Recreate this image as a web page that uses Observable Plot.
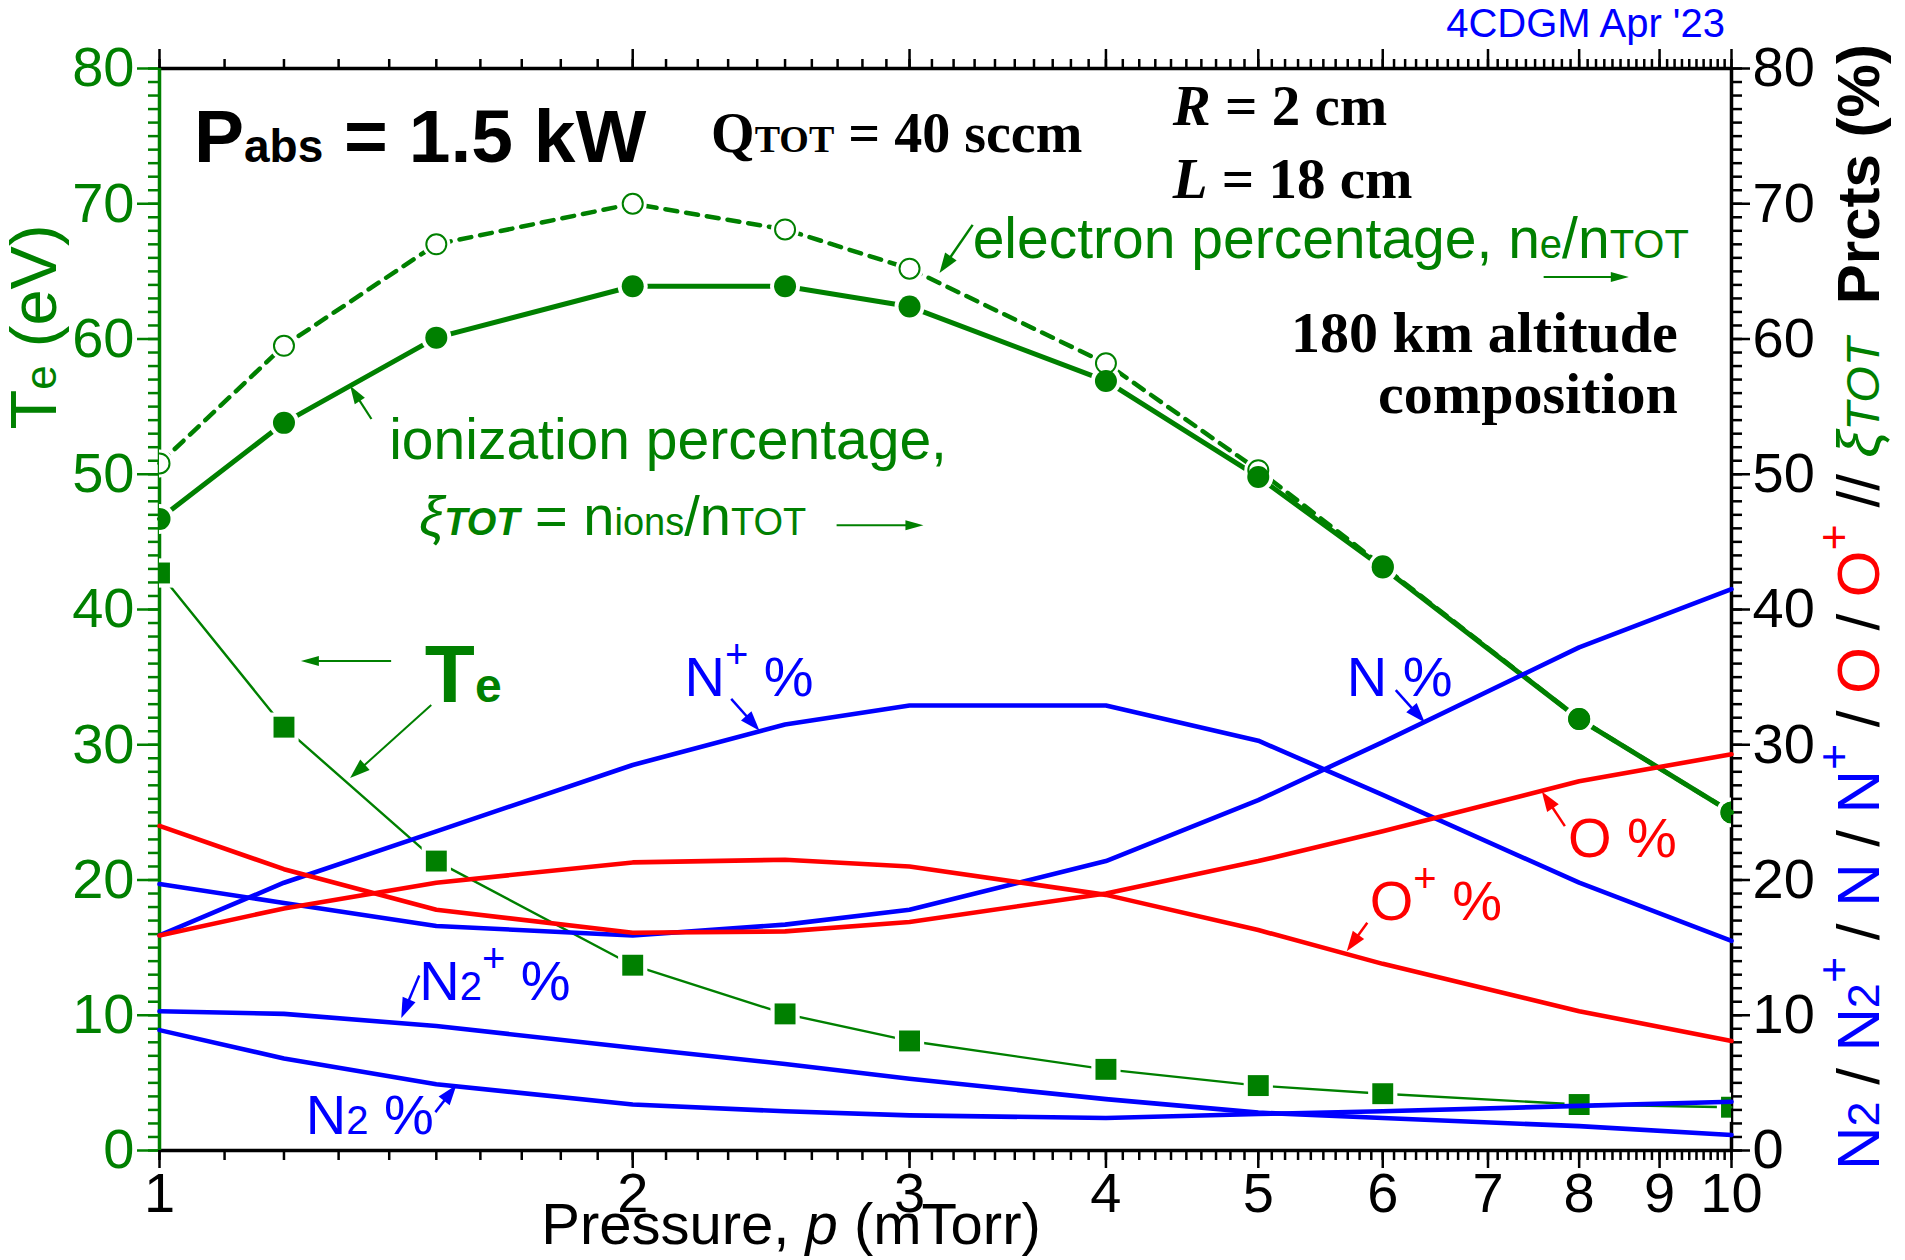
<!DOCTYPE html>
<html><head><meta charset="utf-8">
<script src="https://cdn.jsdelivr.net/npm/d3@7"></script>
<script src="https://cdn.jsdelivr.net/npm/@observablehq/plot@0.6"></script>
<style>
html,body{margin:0;padding:0;background:#fff;}
#chart svg{display:block;}
</style></head><body><div id="chart"></div>
<script>
// ---------- data ----------
const pressure      = [1, 1.2, 1.5, 2, 2.5, 3, 4, 5, 6, 8, 10];            // mTorr
const electronPct   = [50.8, 59.5, 67.0, 70.0, 68.1, 65.2, 58.2, 50.3, 43.2, 31.9, 25.0];
const ionizationPct = [46.7, 53.8, 60.1, 63.9, 63.9, 62.4, 56.9, 49.8, 43.1, 31.9, 25.0];
const electronTemp  = [42.7, 31.3, 21.4, 13.7, 10.1, 8.1, 6.0, 4.8, 4.2, 3.4, 3.2];   // eV
const nIonPct       = [15.9, 19.8, 23.6, 28.5, 31.5, 32.9, 32.9, 30.3, 26.3, 19.8, 15.5];
const nAtomPct      = [19.7, 18.3, 16.6, 15.9, 16.7, 17.8, 21.4, 25.9, 30.2, 37.2, 41.5];
const oAtomPct      = [24.0, 20.8, 17.8, 16.1, 16.2, 16.9, 19.0, 21.4, 23.6, 27.3, 29.3];
const oIonPct       = [15.9, 17.9, 19.8, 21.3, 21.5, 21.0, 18.9, 16.3, 13.8, 10.3, 8.1];
const n2IonPct      = [10.3, 10.1, 9.2, 7.6, 6.4, 5.3, 3.8, 2.8, 2.4, 1.8, 1.15];
const n2MolPct      = [8.9, 6.8, 4.9, 3.4, 2.9, 2.6, 2.4, 2.7, 2.9, 3.3, 3.6];

const yMajorTicks = [0, 10, 20, 30, 40, 50, 60, 70, 80];
const xMajorTicks = [1, 2, 3, 4, 5, 6, 7, 8, 9, 10];
const xTickLabels = ["1", "2", "3", "4", "5", "6", "7", "8", "9", "10"];

// ---------- styling ----------
const GREEN = "#008000", BLUE = "#0000ff", RED = "#ff0000";
const SANS = "'Liberation Sans', Arial, Helvetica, sans-serif";
const SERIF = "'Liberation Serif', 'Times New Roman', Times, serif";

const rows = vals => pressure.map((p, i) => ({p, v: vals[i]}));
const yMinor = d3.range(0, 81, 1);
const xMinor = d3.range(10, 101).map(d => d / 10);

const composition = [
  {values: nIonPct,  color: BLUE},
  {values: nAtomPct, color: BLUE},
  {values: oAtomPct, color: RED},
  {values: oIonPct,  color: RED},
  {values: n2IonPct, color: BLUE},
  {values: n2MolPct, color: BLUE}
];

const plot = Plot.plot({
  width: 1905, height: 1260,
  marginLeft: 159, marginRight: 174, marginTop: 68, marginBottom: 110,
  style: {fontFamily: SANS, background: "white", overflow: "visible"},
  x: {type: "log", domain: [1, 10]},
  y: {domain: [0, 80]},
  marks: [
    // axes ticks
    Plot.axisY(yMinor, {anchor: "left", tickSize: 11, tickFormat: () => "", color: GREEN, stroke: GREEN, strokeWidth: 2.5, label: null}),
    Plot.axisY(yMajorTicks, {anchor: "left", tickSize: 22, tickPadding: 3, color: GREEN, stroke: GREEN, fill: GREEN, strokeWidth: 2.5, fontSize: 56, label: null}),
    Plot.axisY(yMinor, {anchor: "right", tickSize: 10, tickFormat: () => "", color: "black", strokeWidth: 2.5, label: null}),
    Plot.axisY(yMajorTicks, {anchor: "right", tickSize: 18, tickPadding: 3, color: "black", strokeWidth: 2.5, fontSize: 56, label: null}),
    Plot.axisX(xMinor, {anchor: "bottom", tickSize: 10, tickFormat: () => "", color: "black", strokeWidth: 2.5, label: null}),
    Plot.axisX(xMajorTicks, {anchor: "bottom", tickSize: 18, tickPadding: 4, color: "black", strokeWidth: 2.5, fontSize: 56,
      tickFormat: d => xTickLabels[xMajorTicks.indexOf(d)], label: null}),
    Plot.axisX(xMinor, {anchor: "top", tickSize: 10, tickFormat: () => "", color: "black", strokeWidth: 2.5, label: null}),
    Plot.axisX(xMajorTicks, {anchor: "top", tickSize: 20, tickFormat: () => "", color: "black", strokeWidth: 2.5, label: null}),
    // frame lines
    Plot.ruleY([0], {stroke: "black", strokeWidth: 3.5}),
    Plot.ruleY([80], {stroke: "black", strokeWidth: 3.5}),
    Plot.ruleX([10], {stroke: "black", strokeWidth: 3.5}),
    Plot.ruleX([1], {stroke: GREEN, strokeWidth: 3.5}),
    // electron / ionization percentages
    Plot.line(rows(electronPct), {x: "p", y: "v", stroke: GREEN, strokeWidth: 4.5, strokeDasharray: "12,9"}),
    Plot.line(rows(ionizationPct), {x: "p", y: "v", stroke: GREEN, strokeWidth: 5}),
    Plot.dot(rows(electronPct), {x: "p", y: "v", r: 14, fill: "white", clip: true}),
    Plot.dot(rows(ionizationPct), {x: "p", y: "v", r: 15, fill: "white", clip: true}),
    Plot.dot(rows(electronPct), {x: "p", y: "v", r: 10, fill: "white", stroke: GREEN, strokeWidth: 2, clip: true}),
    Plot.dot(rows(ionizationPct), {x: "p", y: "v", r: 11, fill: GREEN, clip: true}),
    // electron temperature
    Plot.line(rows(electronTemp), {x: "p", y: "v", stroke: GREEN, strokeWidth: 2.4}),
    Plot.dot(rows(electronTemp), {x: "p", y: "v", symbol: "square", r: 16.5, fill: "white", clip: true}),
    Plot.dot(rows(electronTemp), {x: "p", y: "v", symbol: "square", r: 11.8, fill: GREEN, clip: true}),
    // composition
    ...composition.map(s => Plot.line(rows(s.values), {x: "p", y: "v", stroke: s.color, strokeWidth: 4.6}))
  ]
});
document.getElementById("chart").append(plot);

// ---------- annotations through the plot's scales ----------
const sx = plot.scale("x"), sy = plot.scale("y");
const X = p => sx.apply(p), Y = v => sy.apply(v);
const svg = d3.select(plot);
const g = svg.append("g");

function richText(x, y, parts, base) {
  const t = g.append("text").attr("x", x).attr("y", y)
    .attr("font-family", base.family || SANS)
    .attr("font-size", base.size)
    .attr("font-weight", base.weight || "normal")
    .attr("fill", base.color || "black")
    .attr("text-anchor", base.anchor || "start")
    .style("white-space", "pre");
  if (base.transform) t.attr("transform", base.transform);
  let shift = 0;
  for (const part of parts) {
    const s = t.append("tspan").text(part.t);
    if (part.size) s.attr("font-size", part.size);
    if (part.weight) s.attr("font-weight", part.weight);
    if (part.style) s.attr("font-style", part.style);
    if (part.color) s.attr("fill", part.color);
    if (part.family) s.attr("font-family", part.family);
    const target = part.shift || 0;
    if (target !== shift) { s.attr("dy", -(target - shift)); shift = target; }
  }
  return t;
}
function arrow(p1, v1, p2, v2, color, width = 2.5, head = 20, hw = 7) {
  const x1 = X(p1), y1 = Y(v1), x2 = X(p2), y2 = Y(v2);
  const a = Math.atan2(y2 - y1, x2 - x1);
  const bx = x2 - head * Math.cos(a), by = y2 - head * Math.sin(a);
  g.append("line").attr("x1", x1).attr("y1", y1).attr("x2", bx + 2 * Math.cos(a)).attr("y2", by + 2 * Math.sin(a))
    .attr("stroke", color).attr("stroke-width", width);
  const px = -Math.sin(a) * hw, py = Math.cos(a) * hw;
  g.append("polygon").attr("points", `${x2},${y2} ${bx + px},${by + py} ${bx - px},${by - py}`).attr("fill", color);
}

// text labels (positions in data units: pressure, percent)
richText(X(1.0526), Y(73.05), [{t: "P"}, {t: "abs", size: 46}, {t: " = 1.5 kW"}], {size: 75, weight: "bold"});
richText(X(2.245), Y(73.8), [{t: "Q"}, {t: "TOT", size: 38}, {t: " = 40 sccm"}], {size: 56, weight: "bold", family: SERIF});
richText(X(4.414), Y(75.8), [{t: "R", style: "italic"}, {t: " = 2 cm"}], {size: 57, weight: "bold", family: SERIF});
richText(X(4.414), Y(70.4), [{t: "L", style: "italic"}, {t: " = 18 cm"}], {size: 57, weight: "bold", family: SERIF});
richText(X(3.293), Y(65.95), [{t: "electron percentage, n"}, {t: "e", size: 40}, {t: "/n"}, {t: "TOT", size: 40}], {size: 57, color: GREEN});
arrow(7.60, 64.55, 8.61, 64.55, GREEN, 2, 18, 5);
arrow(3.293, 68.4, 3.137, 64.85, GREEN);
richText(X(9.25), Y(59.0), [{t: "180 km altitude"}], {size: 58, weight: "bold", family: SERIF, anchor: "end"});
richText(X(9.25), Y(54.5), [{t: "composition"}], {size: 58, weight: "bold", family: SERIF, anchor: "end"});
richText(X(1.401), Y(51.1), [{t: "ionization percentage,"}], {size: 57, color: GREEN});
richText(X(1.464), Y(45.5), [{t: "ξ", style: "italic"}, {t: "TOT", size: 38, style: "italic", weight: "bold"}, {t: " = n"}, {t: "ions", size: 38}, {t: "/n"}, {t: "TOT", size: 38}], {size: 56, color: GREEN});
arrow(2.698, 46.2, 3.064, 46.2, GREEN, 2, 18, 5);
arrow(1.365, 54.05, 1.323, 56.5, GREEN, 2.2, 18, 6);
richText(X(1.476), Y(33.1), [{t: "T"}, {t: "e", size: 48}], {size: 82, weight: "bold", color: GREEN});
arrow(1.405, 36.15, 1.231, 36.15, GREEN, 2, 18, 5);
arrow(1.490, 32.9, 1.323, 27.5, GREEN, 2, 20, 7);
richText(X(2.159), Y(33.6), [{t: "N"}, {t: "+", size: 40, shift: 28}, {t: " %"}], {size: 56, color: BLUE});
arrow(2.312, 33.35, 2.410, 31.0, BLUE);
richText(X(5.696), Y(33.6), [{t: "N %"}], {size: 56, color: BLUE});
arrow(6.12, 34.0, 6.386, 31.6, BLUE);
richText(X(7.875), Y(21.66), [{t: "O %"}], {size: 56, color: RED});
arrow(7.84, 23.95, 7.58, 26.5, RED);
richText(X(5.891), Y(17.0), [{t: "O"}, {t: "+", size: 40, shift: 28}, {t: " %"}], {size: 56, color: RED});
arrow(5.87, 16.8, 5.696, 14.7, RED);
richText(X(1.464), Y(11.1), [{t: "N"}, {t: "2", size: 40}, {t: "+", size: 40, shift: 28}, {t: " %"}], {size: 56, color: BLUE});
arrow(1.464, 12.9, 1.426, 9.76, BLUE);
richText(X(1.240), Y(1.18), [{t: "N"}, {t: "2", size: 40}, {t: " %"}], {size: 56, color: BLUE});
arrow(1.499, 2.8, 1.546, 4.8, BLUE);

// axis titles and stamp
richText(0, 0, [{t: "T"}, {t: "e", size: 44}, {t: " (eV)"}], {size: 65, color: GREEN, anchor: "middle", transform: `translate(56,327) rotate(-90)`});
richText(0, 0, [
  {t: "N", color: BLUE}, {t: "2", size: 45, color: BLUE}, {t: " / "},
  {t: "N", color: BLUE}, {t: "2", size: 45, color: BLUE}, {t: "+", size: 45, color: BLUE, shift: 30}, {t: " / "},
  {t: "N", color: BLUE}, {t: " / "},
  {t: "N", color: BLUE}, {t: "+", size: 45, color: BLUE, shift: 30}, {t: " / "},
  {t: "O", color: RED}, {t: " / "},
  {t: "O", color: RED}, {t: "+", size: 45, color: RED, shift: 30}, {t: " // "},
  {t: "ξ", color: GREEN, style: "italic"}, {t: "TOT", color: GREEN, style: "italic", size: 47}, {t: "  "},
  {t: "Prcts (%)", weight: "bold"}
], {size: 60, anchor: "middle", transform: `translate(1879,607) rotate(-90)`});
richText(791, 1244, [{t: "Pressure, "}, {t: "p", style: "italic"}, {t: " (mTorr)"}], {size: 58, anchor: "middle"});
richText(1725, 37, [{t: "4CDGM Apr '23"}], {size: 40, color: BLUE, anchor: "end"});
</script>
</body></html>
